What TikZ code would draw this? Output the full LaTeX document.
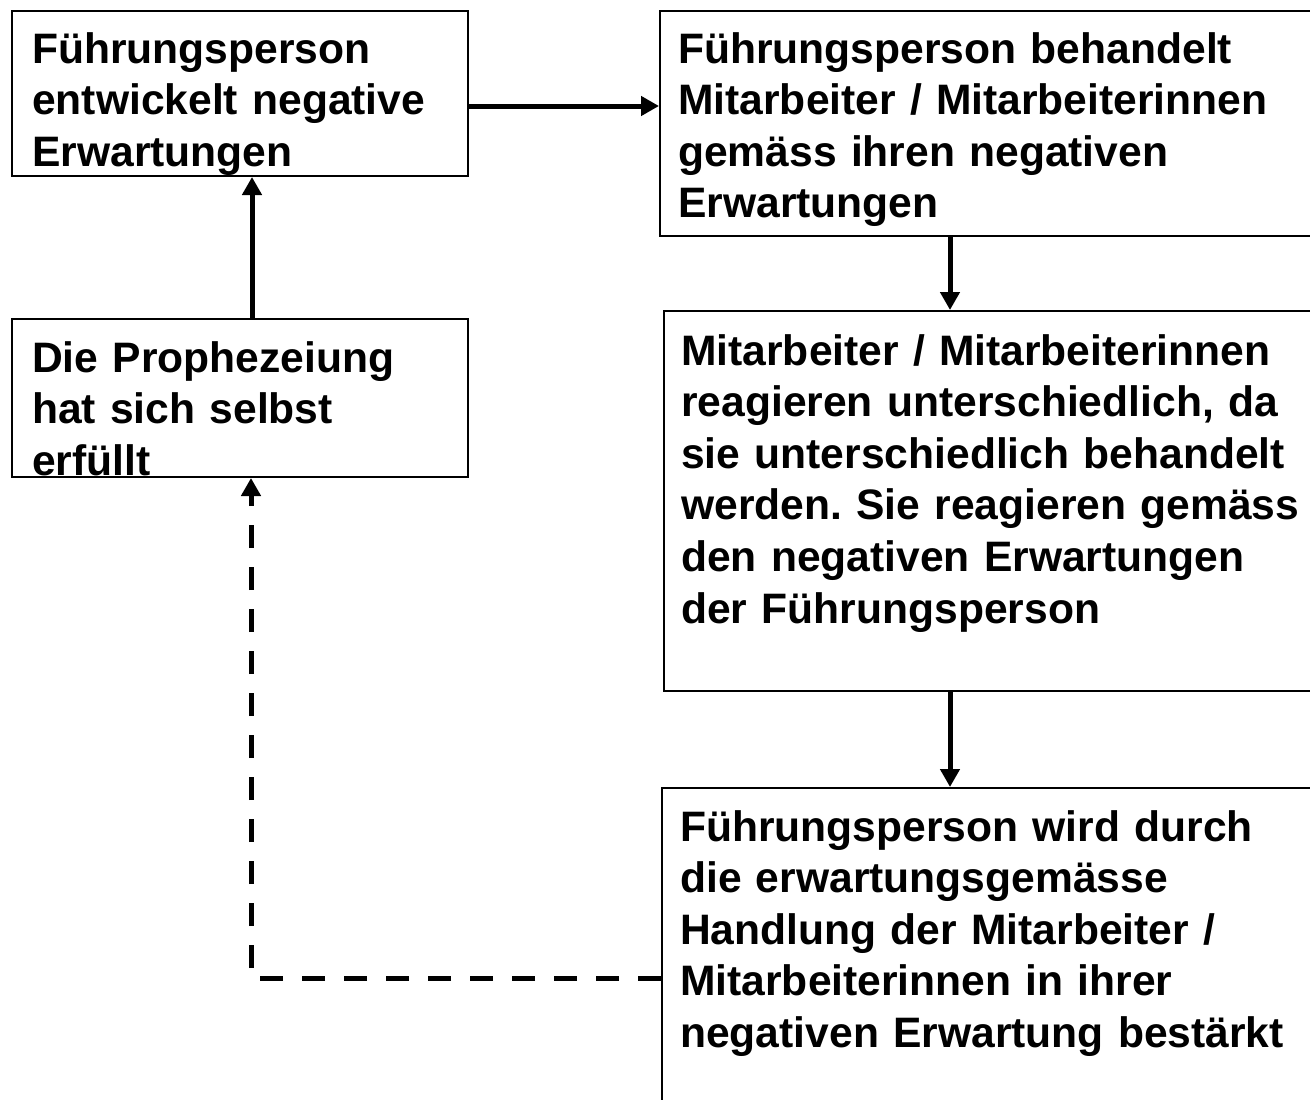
\documentclass[tikz,border=0pt]{standalone}
\usepackage{fontspec}
\setmainfont{Liberation Sans}
\usetikzlibrary{arrows.meta}
\begin{document}
\begin{tikzpicture}[x=1pt,y=-1pt,
  box/.style={draw=black,line width=2pt,anchor=north west,inner sep=0pt,fill=none},
  txt/.style={anchor=base west,inner sep=0pt,text width=640pt,align=left,
    font=\fontsize{42.6}{51.6}\selectfont\bfseries\frenchspacing},
  flow/.style={line width=5pt,-{Triangle[width=19pt,length=18pt]}},
  back/.style={line width=5pt,dash pattern=on 23pt off 19pt,-{Triangle[width=19pt,length=18pt]}}]
\clip (0,0) rectangle (1310,1100);
\fill[white] (0,0) rectangle (1310,1100);
% boxes
\node[box,minimum width=456pt,minimum height=165pt] (A) at (11,10) {};
\node[box,minimum width=680pt,minimum height=225pt] (B) at (659,10) {};
\node[box,minimum width=680pt,minimum height=380pt] (C) at (663,310) {};
\node[box,minimum width=680pt,minimum height=400pt] (D) at (661,787) {};
\node[box,minimum width=456pt,minimum height=158pt] (E) at (11,318) {};
% texts
\node[txt] (tA) at (32,63) {Führungsperson\\entwickelt negative\\Erwartungen};
\node[txt] (tB) at (678,63) {Führungsperson behandelt\\Mitarbeiter / Mitarbeiterinnen\\gemäss ihren negativen\\Erwartungen};
\node[txt] (tC) at (681,365) {Mitarbeiter / Mitarbeiterinnen\\reagieren unterschiedlich, da\\sie unterschiedlich behandelt\\werden. Sie reagieren gemäss\\den negativen Erwartungen\\der Führungsperson};
\node[txt] (tD) at (680,841) {Führungsperson wird durch\\die erwartungsgemässe\\Handlung der Mitarbeiter /\\Mitarbeiterinnen in ihrer\\negativen Erwartung bestärkt};
\node[txt] (tE) at (32,372) {Die Prophezeiung\\hat sich selbst\\erfüllt};
% connectors
\draw[flow] (A.east |- 0,106) -- (B.west |- 0,106);
\draw[flow] (B.south -| 950,0) -- (C.north -| 950,0);
\draw[flow] (C.south -| 950,0) -- (D.north -| 950,0);
\draw[flow] (E.north -| 252,0) -- (A.south -| 252,0);
\coordinate (corner) at (251,978);
\draw[back] (D.west |- corner) -- (corner) -- (E.south -| corner);
\end{tikzpicture}
\end{document}
